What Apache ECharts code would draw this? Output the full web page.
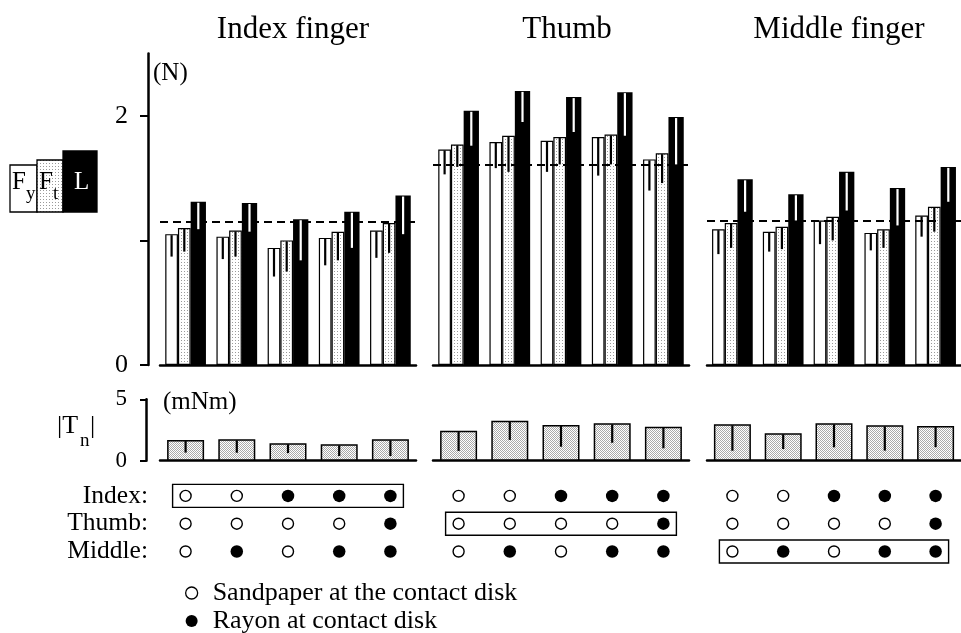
<!DOCTYPE html>
<html>
<head>
<meta charset="utf-8">
<script src="https://cdn.jsdelivr.net/npm/echarts@6/dist/echarts.min.js"></script>
<style>
  html, body { margin: 0; padding: 0; background: #fff; }
  #chart { width: 961px; height: 633px; }
</style>
</head>
<body>
<div id="chart"></div>
<script>
// ---- data ---------------------------------------------------------------
const panelTitles = ['Index finger', 'Thumb', 'Middle finger'];
const conditions = ['1', '2', '3', '4', '5'];
const rowLabels = ['Index:', 'Thumb:', 'Middle:'];
const forceTicks = [0, 1, 2];
const forceTickLabels = [0, 2];

// Forces (N) per finger: Fy, Ft and L with their SD (drawn downward)
const indexFy   = [1.05, 1.03, 0.94, 1.02, 1.08];
const indexFySd = [0.18, 0.18, 0.23, 0.22, 0.22];
const indexFt   = [1.10, 1.08, 1.00, 1.07, 1.14];
const indexFtSd = [0.19, 0.21, 0.25, 0.23, 0.24];
const indexL    = [1.31, 1.30, 1.17, 1.23, 1.36];
const indexLSd  = [0.22, 0.23, 0.33, 0.29, 0.31];

const thumbFy   = [1.73, 1.79, 1.80, 1.83, 1.65];
const thumbFySd = [0.20, 0.21, 0.25, 0.31, 0.25];
const thumbFt   = [1.77, 1.84, 1.83, 1.85, 1.70];
const thumbFtSd = [0.18, 0.29, 0.22, 0.24, 0.24];
const thumbL    = [2.04, 2.20, 2.15, 2.19, 1.99];
const thumbLSd  = [0.28, 0.25, 0.28, 0.35, 0.38];

const middleFy   = [1.09, 1.07, 1.16, 1.06, 1.20];
const middleFySd = [0.20, 0.16, 0.19, 0.14, 0.17];
const middleFt   = [1.14, 1.11, 1.19, 1.09, 1.27];
const middleFtSd = [0.20, 0.18, 0.19, 0.15, 0.20];
const middleL    = [1.49, 1.37, 1.55, 1.42, 1.59];
const middleLSd  = [0.26, 0.21, 0.31, 0.30, 0.28];

// dashed reference level of each panel (N)
const referenceLevel = [1.146, 1.614, 1.157];

// |Tn| (mNm) and SD
const indexTn    = [1.69, 1.74, 1.42, 1.33, 1.74];
const indexTnSd  = [1.03, 1.09, 0.80, 0.95, 1.36];
const thumbTn    = [2.44, 3.26, 2.91, 3.04, 2.77];
const thumbTnSd  = [1.65, 1.57, 1.77, 1.58, 1.76];
const middleTn   = [2.96, 2.23, 3.04, 2.88, 2.83];
const middleTnSd = [2.15, 1.28, 1.95, 2.06, 1.73];

// contact-disk surface of each finger per condition: S = sandpaper, R = rayon
const indexSurface  = ['S', 'S', 'R', 'R', 'R'];
const thumbSurface  = ['S', 'S', 'S', 'S', 'R'];
const middleSurface = ['S', 'R', 'S', 'R', 'R'];

const sandpaperName = 'Sandpaper at the contact disk';
const rayonName = 'Rayon at contact disk';

// ---- assembled per panel -----------------------------------------------
const forces = [
  [indexFy, indexFt, indexL],
  [thumbFy, thumbFt, thumbL],
  [middleFy, middleFt, middleL]
];
const forceSd = [
  [indexFySd, indexFtSd, indexLSd],
  [thumbFySd, thumbFtSd, thumbLSd],
  [middleFySd, middleFtSd, middleLSd]
];
const torque = [indexTn, thumbTn, middleTn];
const torqueSd = [indexTnSd, thumbTnSd, middleTnSd];
const surfaces = [indexSurface, thumbSurface, middleSurface];

// ---- styling -------------------------------------------------------------
const FONT = 'Liberation Serif';
const BAR_W = [12.7, 12.7, 15.3];
const barOffsets = (() => {
  let s = -BAR_W.reduce((a, b) => a + b, 0) / 2;
  return BAR_W.map(w => { const c = s + w / 2; s += w; return c; });
})();

function stipple(size, dots, dotColor) {
  const c = document.createElement('canvas');
  c.width = size; c.height = size;
  const g = c.getContext('2d');
  g.fillStyle = '#fff';
  g.fillRect(0, 0, size, size);
  g.fillStyle = dotColor;
  dots.forEach(([x, y]) => g.fillRect(x, y, 1, 1));
  return c;
}
const lightDots = stipple(3, [[1, 1]], '#9a9a9a');
const denseDots = stipple(2, [[0, 0], [1, 1]], '#aaaaaa');

const barStyles = [
  { color: '#fff', borderColor: '#000', borderWidth: 1.2 },
  { color: { image: lightDots, repeat: 'repeat' }, borderColor: '#000', borderWidth: 1.2 },
  { color: '#000', borderColor: '#000', borderWidth: 0 }
];
const sdColors = ['#000', '#000', '#fff'];

const panelLeft = [160, 433, 707];
const panelWidth = [256, 256, 254];

// ---- grids & axes ----------------------------------------------------------
const grids = [], xAxes = [], yAxes = [], series = [];
const bandAxisLine = { show: true, lineStyle: { color: '#000', width: 2.5 } };

for (let p = 0; p < 3; p++) {
  grids.push({ left: panelLeft[p], width: panelWidth[p], top: 53.5, height: 311.5 });
}
for (let p = 0; p < 3; p++) {
  grids.push({ left: panelLeft[p], width: panelWidth[p], top: 399.3, height: 61.4 });
}
for (let p = 0; p < 3; p++) {
  grids.push({ left: panelLeft[p], width: panelWidth[p], top: 482, height: 83.4 });
}

for (let g = 0; g < 9; g++) {
  const isTable = g >= 6;
  xAxes.push({
    type: 'category', gridIndex: g, data: conditions,
    axisLine: isTable ? { show: false } : bandAxisLine,
    axisTick: { show: false }, axisLabel: { show: false }, splitLine: { show: false }
  });
}
// force axes
for (let p = 0; p < 3; p++) {
  const first = p === 0;
  yAxes.push({
    type: 'value', gridIndex: p, min: 0, max: 2.5, offset: 12,
    show: first,
    axisLine: { show: true, lineStyle: { color: '#000', width: 2.5 } },
    axisTick: { show: true, customValues: forceTicks, length: 8, lineStyle: { color: '#000', width: 2 } },
    axisLabel: { show: true, customValues: forceTickLabels, margin: 20, color: '#000', fontFamily: FONT, fontSize: 26 },
    splitLine: { show: false }
  });
}
// torque axes
for (let p = 0; p < 3; p++) {
  yAxes.push({
    type: 'value', gridIndex: 3 + p, min: 0, max: 5, interval: 5, offset: 14,
    show: p === 0,
    axisLine: { show: true, lineStyle: { color: '#000', width: 2.5 } },
    axisTick: { show: true, length: 6, lineStyle: { color: '#000', width: 2 } },
    axisLabel: { show: true, margin: 19, color: '#000', fontFamily: FONT, fontSize: 23 },
    splitLine: { show: false }
  });
}
// condition table axes
for (let p = 0; p < 3; p++) {
  yAxes.push({
    type: 'category', gridIndex: 6 + p, data: rowLabels, inverse: true,
    axisLine: { show: false }, axisTick: { show: false }, splitLine: { show: false },
    axisLabel: { show: p === 0, interval: 0, margin: 12, color: '#000', fontFamily: FONT, fontSize: 25.5 }
  });
}

// ---- series ----------------------------------------------------------------
function sdRenderer(offsets, colors) {
  return function (params, api) {
    const cat = api.value(0), v = api.value(1), sd = api.value(2), k = api.value(3);
    const top = api.coord([cat, v]);
    const bottom = api.coord([cat, v - sd]);
    const x = top[0] + offsets[k];
    return {
      type: 'line',
      shape: { x1: x, y1: top[1] + 1, x2: x, y2: bottom[1] },
      style: { stroke: colors[k], lineWidth: 2.2 }
    };
  };
}

const seriesNames = ['Fy', 'Ft', 'L'];
for (let p = 0; p < 3; p++) {
  for (let k = 0; k < 3; k++) {
    const s = {
      type: 'bar', name: seriesNames[k], xAxisIndex: p, yAxisIndex: p,
      data: forces[p][k], barWidth: BAR_W[k], barGap: '0%',
      itemStyle: barStyles[k], silent: true, animation: false
    };
    if (k === 2) {
      s.markLine = {
        silent: true, symbol: 'none', label: { show: false }, animation: false,
        lineStyle: { type: [8, 5], color: '#000', width: 2 },
        data: [{ yAxis: referenceLevel[p] }]
      };
    }
    series.push(s);
  }
  const sdData = [];
  for (let k = 0; k < 3; k++) {
    forces[p][k].forEach((v, i) => sdData.push([i, v, forceSd[p][k][i], k]));
  }
  series.push({
    type: 'custom', xAxisIndex: p, yAxisIndex: p, z: 5, silent: true, animation: false,
    renderItem: sdRenderer(barOffsets, sdColors), data: sdData
  });

  // |Tn|
  series.push({
    type: 'bar', name: 'Tn', xAxisIndex: 3 + p, yAxisIndex: 3 + p,
    data: torque[p], barWidth: 37, silent: true, animation: false,
    itemStyle: { color: { image: denseDots, repeat: 'repeat' }, borderColor: '#000', borderWidth: 1.5 }
  });
  series.push({
    type: 'custom', xAxisIndex: 3 + p, yAxisIndex: 3 + p, z: 5, silent: true, animation: false,
    renderItem: sdRenderer([0], ['#000']),
    data: torque[p].map((v, i) => [i, v, torqueSd[p][i], 0])
  });

  // condition table
  const open = [], filled = [];
  surfaces.forEach((row, r) => row.forEach((s, c) => (s === 'S' ? open : filled).push([c, r])));
  series.push({
    type: 'scatter', name: sandpaperName, xAxisIndex: 6 + p, yAxisIndex: 6 + p,
    data: open, symbol: 'circle', symbolSize: 11, silent: true, animation: false,
    itemStyle: { color: '#fff', borderColor: '#000', borderWidth: 1.4, opacity: 1 }
  });
  series.push({
    type: 'scatter', name: rayonName, xAxisIndex: 6 + p, yAxisIndex: 6 + p,
    data: filled, symbol: 'circle', symbolSize: 12.5, silent: true, animation: false,
    itemStyle: { color: '#000', opacity: 1 }
  });
  // box round the row of the finger shown in this panel
  series.push({
    type: 'custom', xAxisIndex: 6 + p, yAxisIndex: 6 + p, silent: true, animation: false,
    data: [[0, p]],
    renderItem: function (params, api) {
      const row = api.value(1);
      const a = api.coord([0, row]);
      const b = api.coord([conditions.length - 1, row]);
      return {
        type: 'rect',
        shape: { x: a[0] - 13, y: a[1] - 11.5, width: b[0] - a[0] + 26, height: 23 },
        style: { fill: 'none', stroke: '#000', lineWidth: 1.4 }
      };
    }
  });
}

// ---- titles & annotations ---------------------------------------------------
const titleCenters = [288, 562, 834];
const titles = panelTitles.map((t, i) => ({
  text: t, left: titleCenters[i], top: 9, textAlign: 'center',
  textStyle: { fontFamily: FONT, fontSize: 31, fontWeight: 'normal', color: '#000' }
}));

const txt = (text, x, y, size, extra) => Object.assign({
  type: 'text', x: x, y: y, silent: true,
  style: Object.assign({ text: text, fontFamily: FONT, fontSize: size, fill: '#000', verticalAlign: 'middle' }, extra || {})
});

const graphic = [
  txt('(N)', 153, 73, 25),
  txt('(mNm)', 163, 402, 25),
  txt('|T', 57, 426, 26),
  txt('n', 80, 441, 19),
  txt('|', 90, 426, 26),
  // key of the three force bars
  { type: 'rect', shape: { x: 10, y: 165, width: 27, height: 47 }, silent: true,
    style: { fill: '#fff', stroke: '#000', lineWidth: 1.3 } },
  { type: 'rect', shape: { x: 37, y: 160, width: 26, height: 52 }, silent: true,
    style: { fill: { image: lightDots, repeat: 'repeat' }, stroke: '#000', lineWidth: 1.3 } },
  { type: 'rect', shape: { x: 63, y: 151, width: 34, height: 61 }, silent: true,
    style: { fill: '#000', stroke: '#000', lineWidth: 1.3 } },
  txt('F', 12, 182, 25),
  txt('y', 26, 194, 19),
  txt('F', 39, 182, 25),
  txt('t', 53, 194, 19),
  txt('L', 74, 182, 25, { fill: '#fff' })
];

const chart = echarts.init(document.getElementById('chart'), null, { renderer: 'canvas' });
chart.setOption({
  backgroundColor: '#fff',
  animation: false,
  title: titles,
  grid: grids,
  xAxis: xAxes,
  yAxis: yAxes,
  legend: {
    orient: 'vertical', left: 185, top: 580, height: 80, padding: 0,
    itemWidth: 12, itemHeight: 12, itemGap: 2,
    selectedMode: false,
    textStyle: { fontFamily: FONT, fontSize: 26, lineHeight: 26, color: '#000', padding: [0, 0, 0, 10] },
    data: [
      { name: sandpaperName, icon: 'circle', itemStyle: { color: '#fff', borderColor: '#000', borderWidth: 1.3 } },
      { name: rayonName, icon: 'circle', itemStyle: { color: '#000', borderWidth: 0 } }
    ]
  },
  graphic: graphic,
  series: series
});
</script>
</body>
</html>
